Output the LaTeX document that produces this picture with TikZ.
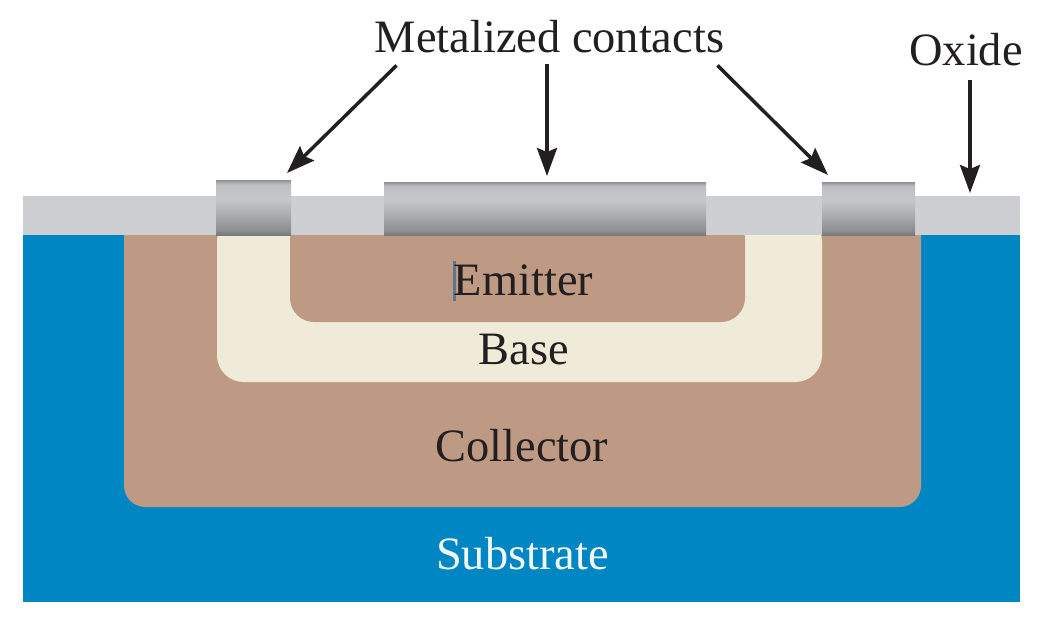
\documentclass[tikz,border=0pt]{standalone}
\usepackage{fontspec}
\setmainfont{Liberation Serif}
\usetikzlibrary{arrows.meta}
\definecolor{substratec}{HTML}{0186C4}
\definecolor{collectorc}{HTML}{BE9A84}
\definecolor{basec}{HTML}{F0EAD8}
\definecolor{oxidec}{HTML}{CDCFD2}
\definecolor{inkc}{HTML}{231F20}
\definecolor{cursorc}{HTML}{5F7690}
\definecolor{metalA}{RGB}{119,120,124}
\definecolor{metalB}{RGB}{140,141,145}
\definecolor{metalC}{RGB}{172,173,177}
\definecolor{metalD}{RGB}{198,199,203}
\definecolor{metalE}{RGB}{190,191,195}
\definecolor{metalF}{RGB}{143,144,148}
\pgfdeclareverticalshading{metal}{100bp}{
  color(0bp)=(metalA);
  color(25bp)=(metalA);
  color(29bp)=(metalB);
  color(44bp)=(metalC);
  color(58bp)=(metalD);
  color(71bp)=(metalE);
  color(75bp)=(metalF);
  color(100bp)=(metalF)}
\tikzset{
  x=0.75pt,y=-0.75pt,
  region/.style={inner sep=0pt,outer sep=0pt,draw=none,fill=#1},
  contact/.style={inner sep=0pt,outer sep=0pt,draw=none,shading=metal},
  lbl/.style={inner sep=0pt,outer sep=0pt,anchor=base,text=inkc,font=\fontsize{34.8pt}{36pt}\selectfont},
  arr/.style={draw=inkc,line width=2.6pt,-{Stealth[length=21pt,width=15pt,inset=3pt]}}
}
\begin{document}
\begin{tikzpicture}
\useasboundingbox (0,0) rectangle (1042,636);
\fill[white] (0,0) rectangle (1042,636);
\node[region=substratec,minimum width=748pt,minimum height=275.25pt] (substrate) at (521.5,418.5) {};
\node[region=collectorc,rounded corners=16pt,minimum width=597.75pt,minimum height=219pt] (collector) at (522.5,361) {};
\node[region=basec,rounded corners=20pt,minimum width=453.75pt,minimum height=125.25pt] (base) at (519.5,298.5) {};
\node[region=collectorc,rounded corners=18pt,minimum width=341.25pt,minimum height=80.25pt] (emitter) at (517.5,268.5) {};
\node[region=oxidec,minimum width=748pt,minimum height=29.25pt] (oxide) at (521.5,215.5) {};
\node[contact,minimum width=56.25pt,minimum height=41.25pt] (c1) at (253.5,207.5) {};
\node[contact,minimum width=241.5pt,minimum height=39.75pt] (c2) at (545,208.5) {};
\node[contact,minimum width=69.75pt,minimum height=39.75pt] (c3) at (868.5,208.5) {};
\node[region=cursorc,minimum width=2.4pt,minimum height=30pt] (cursor) at (454.5,280.5) {};
\node[lbl] (metal) at (549.5,52) {Metalized contacts};
\node[lbl] (oxlabel) at (966,65) {Oxide};
\node[lbl] (emlabel) at (523.5,295) {Emitter};
\node[lbl] (balabel) at (524,364.5) {Base};
\node[lbl] (colabel) at (522,461.5) {Collector};
\node[lbl,text=white!94!substratec] (sublabel) at (522.5,569) {Substrate};
\draw[arr] ([shift={(-153,13)}]metal.south) -- ([shift={(-4,-7)}]c1.north east);
\draw[arr] ([shift={(-2.5,12)}]metal.south) -- ([shift={(2,-6)}]c2.north);
\draw[arr] ([shift={(168,13)}]metal.south) -- ([shift={(6,-7)}]c3.north west);
\draw[arr] ([shift={(4,15)}]oxlabel.south) -- ([shift={(4,-3)}]oxide.north -| oxlabel.south);
\end{tikzpicture}
\end{document}
